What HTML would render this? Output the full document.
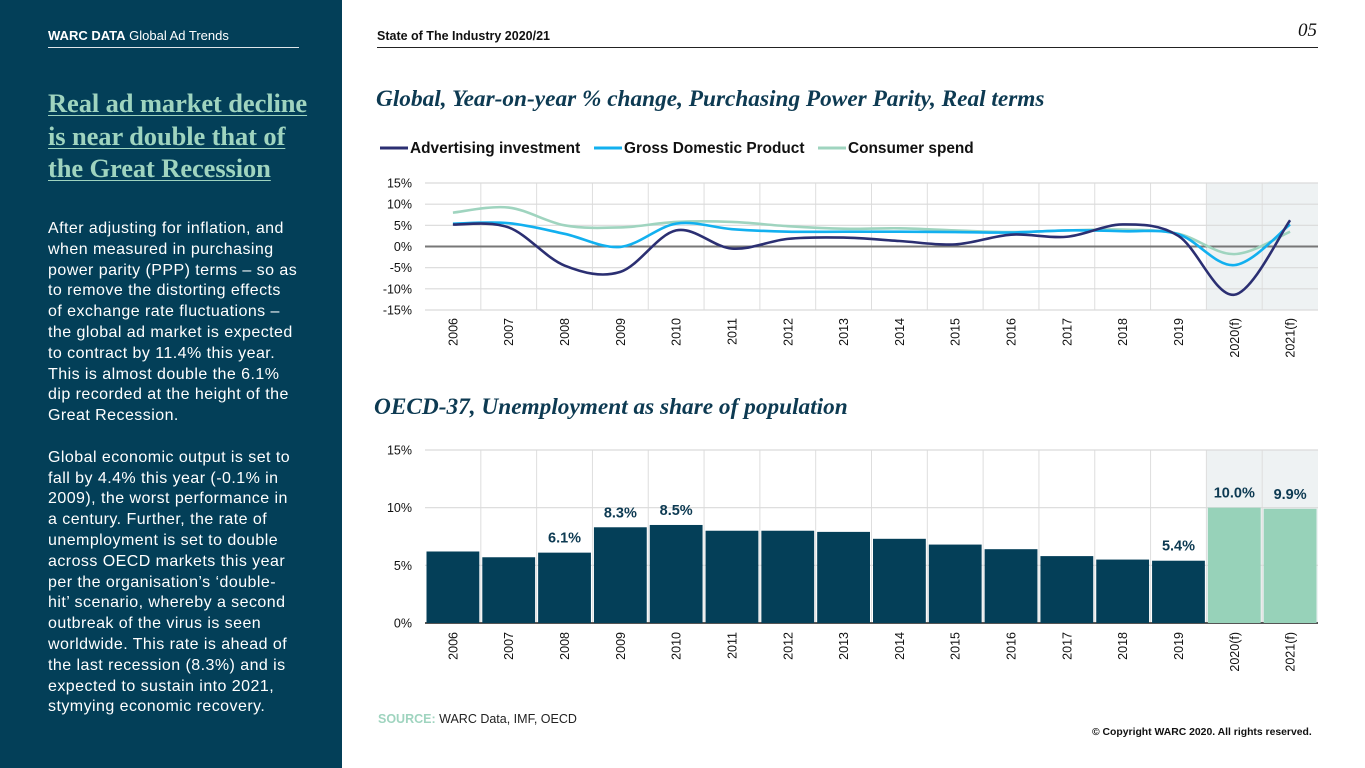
<!DOCTYPE html>
<html><head><meta charset="utf-8"><style>
body{margin:0;width:1365px;height:768px;overflow:hidden;background:#fff;font-family:"Liberation Sans",sans-serif;position:relative}
.abs{position:absolute}
#side{left:0;top:0;width:342px;height:768px;background:#033f58}
.serif{font-family:"Liberation Serif",serif}
</style></head><body>
<div id="side" class="abs">
  <div class="abs" style="left:48px;top:28px;font-size:13px;color:#fff;white-space:nowrap"><b>WARC DATA</b> Global Ad Trends</div>
  <div class="abs" style="left:48px;top:47px;width:251px;height:1px;background:#dfe6ea"></div>
  <div class="abs serif" style="left:48px;top:87px;white-space:nowrap;font-size:26.5px;font-weight:bold;line-height:32.5px;color:#9fd4bf;text-decoration:underline;text-decoration-thickness:1px;text-underline-offset:3px;letter-spacing:-0.1px">Real ad market decline<br>is near double that of<br>the Great Recession</div>
  <div class="abs" style="left:48px;top:219px;white-space:nowrap;font-size:16px;line-height:20.8px;letter-spacing:0.45px;color:#fff">After adjusting for inflation, and<br>when measured in purchasing<br>power parity (PPP) terms – so as<br>to remove the distorting effects<br>of exchange rate fluctuations –<br>the global ad market is expected<br>to contract by 11.4% this year.<br>This is almost double the 6.1%<br>dip recorded at the height of the<br>Great Recession.<br><br>Global economic output is set to<br>fall by 4.4% this year (-0.1% in<br>2009), the worst performance in<br>a century. Further, the rate of<br>unemployment is set to double<br>across OECD markets this year<br>per the organisation’s ‘double-<br>hit’ scenario, whereby a second<br>outbreak of the virus is seen<br>worldwide. This rate is ahead of<br>the last recession (8.3%) and is<br>expected to sustain into 2021,<br>stymying economic recovery.</div>
</div>
<div class="abs" style="left:377px;top:29px;font-size:12.5px;font-weight:bold;color:#111">State of The Industry 2020/21</div>
<div class="abs serif" style="left:1298px;top:20px;font-size:19px;font-style:italic;color:#111">05</div>
<div class="abs" style="left:377px;top:47px;width:941px;height:1px;background:#222"></div>
<div class="abs serif" style="left:376px;top:86px;font-size:23.3px;font-weight:bold;font-style:italic;color:#0d3a52;white-space:nowrap">Global, Year-on-year % change, Purchasing Power Parity, Real terms</div>
<div class="abs serif" style="left:374px;top:394px;font-size:23.3px;font-weight:bold;font-style:italic;color:#0d3a52;white-space:nowrap">OECD-37, Unemployment as share of population</div>
<div class="abs" style="left:378px;top:712px;font-size:12.5px;color:#222"><b style="color:#9fd4bf">SOURCE:</b> WARC Data, IMF, OECD</div>
<div class="abs" style="left:1092px;top:727px;font-size:10.4px;font-weight:bold;color:#111;white-space:nowrap">© Copyright WARC 2020. All rights reserved.</div>
<svg id="chart" class="abs" style="left:0;top:0" width="1365" height="768"></svg>
<script>
const categories=["2006","2007","2008","2009","2010","2011","2012","2013","2014","2015","2016","2017","2018","2019","2020(f)","2021(f)"];
const adInvestment=[5.2,4.5,-4.5,-6.0,3.8,-0.5,1.8,2.1,1.3,0.5,2.8,2.3,5.2,2.5,-11.4,6.2];
const gdp=[5.4,5.5,3.0,-0.1,5.4,4.1,3.5,3.5,3.5,3.4,3.3,3.8,3.6,2.9,-4.4,5.2];
const consumerSpend=[8.0,9.2,5.0,4.5,5.8,5.8,4.8,4.2,4.3,3.8,3.4,3.8,4.0,3.0,-1.8,3.5];
const lineTicks=[15,10,5,0,-5,-10,-15];
const unemployment=[6.2,5.7,6.1,8.3,8.5,8.0,8.0,7.9,7.3,6.8,6.4,5.8,5.5,5.4,10.0,9.9];
const barLabels=["","","6.1%","8.3%","8.5%","","","","","","","","","5.4%","10.0%","9.9%"];
const barTicks=[15,10,5,0];
const forecastCount=2;

const svg=document.getElementById('chart');const NS="http://www.w3.org/2000/svg";
function mk(t,a,p){const e=document.createElementNS(NS,t);for(const k in a)e.setAttribute(k,a[k]);(p||svg).appendChild(e);return e;}
const X0=425,X1=1318,n=categories.length,cw=(X1-X0)/n;
const cx=i=>X0+cw*(i+0.5);
const ly=v=>246.5-v*(127/30);
const g1=mk('g',{});
const sh1=mk('rect',{x:X0+cw*(n-forecastCount),y:ly(15),width:cw*forecastCount,height:ly(-15)-ly(15),fill:'#eef2f3'},g1);

for(let i=1;i<n;i++){const l=mk('line',{x1:X0+cw*i,x2:X0+cw*i,y1:ly(15),y2:ly(-15),stroke:'#dedede','stroke-width':1},g1);}
lineTicks.forEach(t=>{const l=mk('line',{x1:X0,x2:X1,y1:ly(t),y2:ly(t),stroke:t===0?'#777':'#dadada','stroke-width':t===0?2:1.2},g1);
 const tx=mk('text',{x:412,y:ly(t)+4.5,'text-anchor':'end','font-size':12.5,fill:'#111'},g1);tx.textContent=t+'%';});
function smooth(vals){const p=vals.map((v,i)=>[cx(i),ly(v)]);let d='M'+p[0][0]+','+p[0][1];
 for(let i=0;i<p.length-1;i++){const a=p[Math.max(0,i-1)],b=p[i],c=p[i+1],e=p[Math.min(p.length-1,i+2)];
 d+=` C${b[0]+(c[0]-a[0])/6},${b[1]+(c[1]-a[1])/6} ${c[0]-(e[0]-b[0])/6},${c[1]-(e[1]-b[1])/6} ${c[0]},${c[1]}`;}return d;}
[[consumerSpend,'#9fd4bf','consumer-spend-line'],[gdp,'#12b0ef','gdp-line'],[adInvestment,'#2b2f72','ad-investment-line']].forEach(s=>{
 const p=mk('path',{d:smooth(s[0]),fill:'none',stroke:s[1],'stroke-width':2.6},g1);});
categories.forEach((c,i)=>{const t=mk('text',{x:0,y:0,'font-size':12.5,fill:'#111','text-anchor':'end',transform:`translate(${cx(i)+4.5},318) rotate(-90)`},g1);t.textContent=c;});
const legend=[['Advertising investment','#2b2f72',380],['Gross Domestic Product','#12b0ef',594],['Consumer spend','#9fd4bf',818]];
legend.forEach(l=>{const g=mk('g',{});
 mk('line',{x1:l[2],x2:l[2]+28,y1:148,y2:148,stroke:l[1],'stroke-width':3},g);
 const t=mk('text',{x:l[2]+30,y:153,'font-size':15.4,'font-weight':'bold',fill:'#111'},g);t.textContent=l[0];});
const by=v=>623-v*(173/15);
const g2=mk('g',{});
const sh2=mk('rect',{x:X0+cw*(n-forecastCount),y:by(15),width:cw*forecastCount,height:by(0)-by(15),fill:'#eef2f3'},g2);

for(let i=1;i<n;i++){const l=mk('line',{x1:X0+cw*i,x2:X0+cw*i,y1:by(15),y2:by(0),stroke:'#dedede'},g2);}
barTicks.forEach(t=>{const l=mk('line',{x1:X0,x2:X1,y1:by(t),y2:by(t),stroke:t===0?'#555':'#dadada','stroke-width':t===0?2:1.2},g2);
 const tx=mk('text',{x:412,y:by(t)+4.5,'text-anchor':'end','font-size':12.5,fill:'#111'},g2);tx.textContent=t+'%';});
unemployment.forEach((v,i)=>{const f=i>=n-forecastCount;
 const r=mk('rect',{x:X0+cw*i+1.5,y:by(v),width:cw-3,height:by(0)-by(v),fill:f?'#97d2b9':'#043f58'},g2);
 
 if(barLabels[i]){const t=mk('text',{x:cx(i),y:by(v)-10,'text-anchor':'middle','font-size':14.5,'font-weight':'bold',fill:'#0d3a52'},g2);t.textContent=barLabels[i];}
 const t=mk('text',{x:0,y:0,'font-size':12.5,fill:'#111','text-anchor':'end',transform:`translate(${cx(i)+4.5},632) rotate(-90)`},g2);t.textContent=categories[i];});
</script>
</body></html>
